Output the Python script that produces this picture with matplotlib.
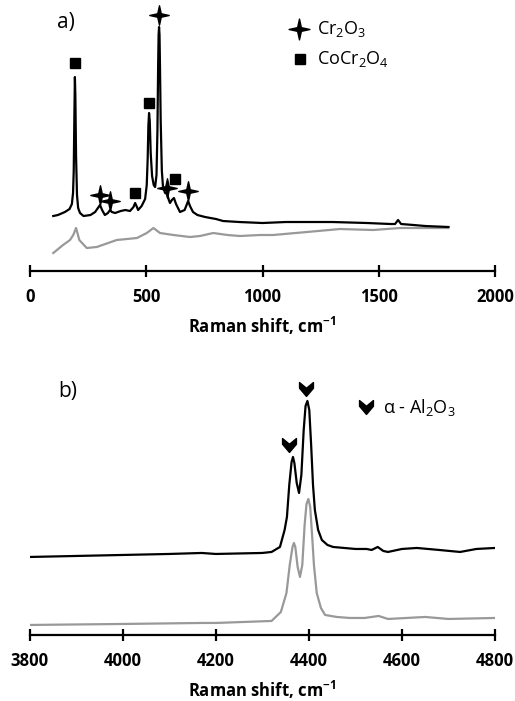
import matplotlib
matplotlib.use("Agg")
from matplotlib import pyplot as plt
from matplotlib.path import Path

plt.rcParams['font.family'] = ['Open Sans', 'DejaVu Sans']
plt.rcParams['mathtext.fontset'] = 'custom'
plt.rcParams['mathtext.rm'] = 'Open Sans'
plt.rcParams['mathtext.bf'] = 'Open Sans:bold'

# ---- panel a) data (Raman shift cm-1, intensity a.u.) ----
a_black_x = [100, 120, 150, 170, 180, 185, 188, 191, 193, 195, 198, 202, 207, 215, 230, 260, 280,
             295, 301, 310, 322, 335, 344, 352, 366, 390, 410, 430, 445, 452, 458, 465, 480, 495,
             502, 506, 509, 512, 515, 519, 525, 532, 538, 544, 548, 551, 553, 555, 557, 559, 562,
             567, 572, 581, 590, 597, 602, 610, 619, 628, 645, 665, 675, 680, 688, 701, 720, 753,
             800, 830, 900, 1000, 1100, 1200, 1300, 1450, 1550, 1570, 1583, 1596, 1650, 1700, 1800]
a_black_y = [55, 56, 59, 62, 67, 78, 100, 160, 194, 175, 115, 76, 63, 58, 55, 56, 59,
             64, 66, 61, 56, 58, 61, 59, 58, 60, 61, 60, 64, 68, 65, 61, 65, 72,
             86, 112, 145, 158, 150, 118, 95, 86, 84, 96, 140, 205, 236, 244, 236, 205, 150,
             100, 84, 78, 77, 71, 68, 71, 73, 67, 59, 61, 67, 70, 65, 59, 56, 54,
             52, 50, 49, 48, 49, 49, 49, 48, 47, 47, 51, 47, 46, 45, 44]
a_gray_x = [100, 142, 172, 186, 198, 212, 244, 287, 373, 460, 502, 531, 559, 617, 688, 731, 788,
            850, 903, 989, 1045, 1191, 1333, 1476, 1591, 1700, 1798]
a_gray_y = [18, 26, 31, 36, 43, 31, 23, 24, 31, 33, 38, 43, 38, 36, 34, 35, 38,
            36, 35, 36, 36, 39, 42, 41, 43, 43, 43]
cr2o3_x = [301, 344, 555, 590, 680]
cr2o3_y = [76, 70, 256, 83, 80]
cocr2o4_x = [193, 452, 512, 624]
cocr2o4_y = [208, 78, 168, 92]
a_ticks = [0, 500, 1000, 1500, 2000]

# ---- panel b) data ----
b_black_x = [3800, 3900, 4000, 4100, 4170, 4200, 4300, 4320, 4338, 4348, 4353, 4358, 4363, 4366,
             4369, 4374, 4379, 4384, 4389, 4393, 4397, 4401, 4405, 4409, 4413, 4420, 4428, 4440,
             4452, 4500, 4524, 4535, 4548, 4560, 4570, 4600, 4632, 4680, 4725, 4760, 4800]
b_black_y = [78, 79, 80, 81, 82, 81, 82, 83, 88, 105, 118, 150, 173, 178,
             172, 152, 142, 160, 205, 229, 234, 225, 190, 150, 125, 105, 95, 90,
             88, 86, 86, 85, 88, 84, 83, 86, 87, 85, 83, 86, 87]
b_gray_x = [3800, 4000, 4170, 4200, 4320, 4340, 4352, 4359, 4365, 4368, 4371, 4376, 4381, 4386,
            4391, 4395, 4399, 4403, 4407, 4411, 4417, 4426, 4435, 4460, 4488, 4520, 4550, 4570,
            4650, 4700, 4800]
b_gray_y = [10, 11, 12, 12, 14, 23, 42, 70, 88, 92, 88, 68, 58, 70,
            110, 131, 136, 128, 100, 70, 42, 27, 20, 18, 17, 17, 19, 16,
            18, 16, 17]
al2o3_x = [4357, 4395]
al2o3_y = [190, 246]
b_ticks = [3800, 4000, 4200, 4400, 4600, 4800]

GRAY = '#999999'

# custom markers
star = Path([(0, 1), (0.18, 0.18), (1, 0), (0.18, -0.18), (0, -1), (-0.18, -0.18),
             (-1, 0), (-0.18, 0.18), (0, 1)],
            [Path.MOVETO] + [Path.LINETO] * 7 + [Path.CLOSEPOLY])
chevron = Path([(-0.85, 0.85), (0, 0.15), (0.85, 0.85), (0.85, 0.15), (0, -0.85), (-0.85, 0.15),
                (-0.85, 0.85)],
               [Path.MOVETO] + [Path.LINETO] * 5 + [Path.CLOSEPOLY])


def style_axis(ax, lo, hi, ticks, top):
    for s in ['left', 'right', 'top']:
        ax.spines[s].set_visible(False)
    ax.spines['bottom'].set_linewidth(1.6)
    ax.set_xlim(lo, hi)
    ax.set_ylim(0, top)
    ax.set_yticks([])
    ax.set_xticks(ticks)
    ax.tick_params(axis='x', direction='inout', length=9, width=1.6, pad=8,
                   labelsize=12)
    for lab in ax.get_xticklabels():
        lab.set_fontweight('bold')
    ax.set_xlabel(r'Raman shift, cm$^{\mathbf{-1}}$', fontsize=12, fontweight='bold', labelpad=6)
    ax.patch.set_visible(False)


fig = plt.figure(figsize=(5.15, 7.01), dpi=100)

ax1 = fig.add_axes([0.0583, 0.6134, 0.9029, 0.3723])
ax1.plot(a_gray_x, a_gray_y, color=GRAY, lw=1.6)
ax1.plot(a_black_x, a_black_y, color='black', lw=1.6)
ax1.plot(cr2o3_x, cr2o3_y, ls='none', marker=star, ms=14, color='black', clip_on=False)
ax1.plot(cocr2o4_x, cocr2o4_y, ls='none', marker='s', ms=6.8, color='black', clip_on=False)
style_axis(ax1, 0, 2000, a_ticks, 261)

ax2 = fig.add_axes([0.0573, 0.0942, 0.9039, 0.3709])
ax2.plot(b_gray_x, b_gray_y, color=GRAY, lw=1.6)
ax2.plot(b_black_x, b_black_y, color='black', lw=1.6)
ax2.plot(al2o3_x, al2o3_y, ls='none', marker=chevron, ms=10, color='black', clip_on=False)
style_axis(ax2, 3800, 4800, b_ticks, 260)

# panel letters
fig.text(0.128, 0.9686, 'a)', fontsize=15, ha='center', va='center')
fig.text(0.132, 0.4408, 'b)', fontsize=15, ha='center', va='center')

# legends
fig.lines.append(plt.Line2D([0.5806], [0.9586], marker=star, ms=15, color='black',
                            transform=fig.transFigure))
fig.text(0.6155, 0.9586, r'Cr$_2$O$_3$', fontsize=13, va='center')
fig.lines.append(plt.Line2D([0.5825], [0.9158], marker='s', ms=6.8, color='black',
                            transform=fig.transFigure))
fig.text(0.6155, 0.9158, r'CoCr$_2$O$_4$', fontsize=13, va='center')
fig.lines.append(plt.Line2D([0.7107], [0.4194], marker=chevron, ms=10, color='black',
                            transform=fig.transFigure))
fig.text(0.7437, 0.4194, r'α - Al$_2$O$_3$', fontsize=13, va='center')

plt.savefig('out.png', dpi=100)
